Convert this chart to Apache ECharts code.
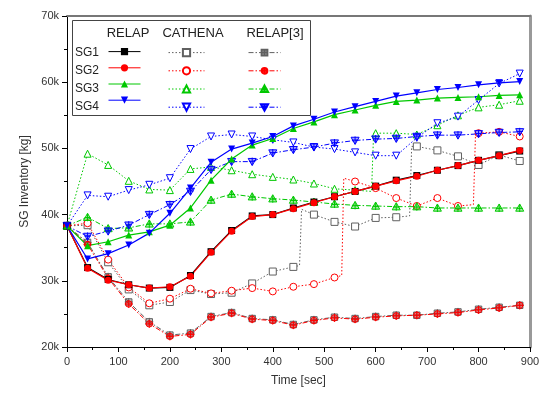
<!DOCTYPE html>
<html>
<head>
<meta charset="utf-8">
<script src="https://cdn.jsdelivr.net/npm/echarts@6/dist/echarts.min.js"></script>
<style>
html, body { margin: 0; padding: 0; background: #fff; }
#chart { width: 544px; height: 396px; }
</style>
</head>
<body>
<div id="chart"></div>
<script>
// time points [sec] used by RELAP and RELAP[3]
const times = [0, 40, 80, 120, 160, 200, 240, 280, 320, 360, 400, 440, 480, 520, 560, 600, 640, 680, 720, 760, 800, 840, 880];

// RELAP, SG inventory [k kg]
const relapSG1 = [38.3, 32.0, 30.2, 29.4, 28.9, 29.0, 30.8, 34.4, 37.6, 39.8, 40.0, 41.0, 41.9, 42.7, 43.5, 44.3, 45.2, 45.9, 46.7, 47.4, 48.2, 48.9, 49.6];
const relapSG2 = [38.3, 31.9, 30.1, 29.4, 28.9, 29.1, 30.7, 34.3, 37.5, 39.7, 40.0, 40.9, 41.8, 42.7, 43.5, 44.3, 45.1, 45.8, 46.7, 47.4, 48.2, 48.9, 49.7];
const relapSG3 = [38.3, 35.3, 35.9, 36.9, 37.4, 38.4, 41.0, 45.2, 48.4, 50.5, 51.5, 53.0, 54.0, 55.1, 55.8, 56.5, 57.1, 57.3, 57.6, 57.7, 57.8, 58.0, 58.1];
const relapSG4 = [38.3, 33.3, 34.1, 35.4, 37.2, 40.2, 44.0, 47.9, 49.9, 50.8, 51.8, 53.4, 54.4, 55.5, 56.3, 57.1, 57.9, 58.4, 58.9, 59.2, 59.6, 59.9, 60.1];

// CATHENA, own time points because of the sudden jumps
const cathenaSG1Time = [0, 40, 80, 120, 160, 200, 240, 280, 320, 360, 400, 440, 452, 456, 480, 520, 560, 600, 640, 666, 670, 680, 720, 760, 800, 840, 880];
const cathenaSG1 = [38.3, 38.4, 32.8, 28.7, 26.3, 26.8, 28.6, 28.0, 28.2, 29.6, 31.4, 32.1, 32.3, 40.8, 40.0, 38.9, 38.2, 39.5, 39.6, 39.8, 50.3, 50.3, 49.7, 48.8, 47.5, 49.0, 48.1];
const cathenaSG2Time = [0, 40, 80, 120, 160, 200, 240, 280, 320, 360, 400, 440, 480, 520, 534, 538, 560, 600, 640, 680, 720, 760, 790, 794, 800, 840, 880];
const cathenaSG2 = [38.3, 38.7, 33.2, 29.0, 26.6, 27.3, 28.8, 28.1, 28.5, 28.9, 28.4, 29.1, 29.5, 30.5, 30.8, 45.5, 45.0, 44.0, 42.5, 41.3, 42.5, 41.3, 41.5, 52.0, 52.3, 52.5, 51.8];
const cathenaSG3Time = [0, 40, 80, 120, 160, 200, 240, 280, 320, 360, 400, 440, 480, 520, 560, 592, 596, 600, 640, 680, 720, 760, 800, 840, 880];
const cathenaSG3 = [38.3, 49.2, 47.5, 45.1, 43.8, 43.7, 46.9, 47.2, 46.7, 46.1, 45.7, 45.3, 44.7, 43.9, 43.7, 43.5, 52.3, 52.3, 52.3, 52.1, 53.5, 55.0, 56.2, 56.6, 57.2];
const cathenaSG4 = [38.3, 42.9, 42.7, 43.7, 44.5, 45.5, 49.9, 51.8, 52.1, 51.8, 51.3, 50.9, 50.2, 49.9, 49.4, 48.9, 48.9, 51.6, 53.8, 54.8, 57.3, 59.8, 61.3];

// RELAP[3]
const relap3SG1 = [38.3, 35.8, 30.6, 26.8, 23.8, 21.8, 22.1, 24.6, 25.2, 24.3, 24.1, 23.4, 24.1, 24.5, 24.3, 24.6, 24.8, 24.8, 25.1, 25.3, 25.7, 26.0, 26.3];
const relap3SG2 = [38.3, 35.5, 30.4, 26.5, 23.5, 21.6, 21.9, 24.5, 25.1, 24.2, 24.0, 23.3, 24.0, 24.4, 24.2, 24.5, 24.7, 24.8, 25.0, 25.2, 25.6, 25.9, 26.3];
const relap3SG3 = [38.3, 39.6, 37.9, 38.0, 38.6, 38.6, 38.9, 42.2, 43.1, 42.7, 42.4, 42.2, 41.9, 41.6, 41.4, 41.3, 41.2, 41.2, 41.0, 41.0, 41.0, 41.0, 41.0];
const relap3SG4 = [38.3, 36.7, 37.5, 38.4, 40.0, 41.5, 43.5, 46.8, 48.0, 48.0, 49.3, 49.8, 50.2, 50.8, 51.2, 51.4, 51.5, 51.8, 52.0, 52.0, 52.2, 52.4, 52.5];

const xTicks = [0, 100, 200, 300, 400, 500, 600, 700, 800, 900];

const FONT = '"Liberation Sans", Arial, sans-serif';
const colors = ['#000000', '#ff0000', '#00c800', '#0000ff'];
const greys = ['#606060', '#ff0000', '#00c800', '#0000ff'];
const sgNames = ['SG1', 'SG2', 'SG3', 'SG4'];

const shapes = ['rect', 'circle', 'triangle', 'path://M0,0L10,0L5,9Z'];
const crossShapes = [
  'path://M1,1H9V9H1Z M5,0V10 M0,5H10',
  'path://M5,1A4,4,0,1,1,4.99,1Z M5,0V10 M0,5H10',
  'path://M5,0L10,9H0Z M5,1V10 M1,5.5H9',
  'path://M0,1H10L5,10Z M5,0V9 M1,4.5H9'
];

// markers only on the 40 s grid, extra jump points get none
function pts(t, v) {
  return t.map((x, i) => (x % 40 === 0 ? [x, v[i]] : { value: [x, v[i]], symbol: 'none' }));
}

const relap = [relapSG1, relapSG2, relapSG3, relapSG4];
const cathena = [
  [cathenaSG1Time, cathenaSG1],
  [cathenaSG2Time, cathenaSG2],
  [cathenaSG3Time, cathenaSG3],
  [times, cathenaSG4]
];
const relap3 = [relap3SG1, relap3SG2, relap3SG3, relap3SG4];

const series = [];
cathena.forEach((d, i) => {
  series.push({
    name: 'CATHENA ' + sgNames[i],
    type: 'line',
    data: pts(d[0], d[1]),
    symbol: shapes[i],
    symbolSize: 7,
    lineStyle: { color: greys[i], width: 1, type: [1.5, 2] },
    itemStyle: { color: '#fff', borderColor: greys[i], borderWidth: 1 }
  });
});
relap3.forEach((d, i) => {
  series.push({
    name: 'RELAP[3] ' + sgNames[i],
    type: 'line',
    data: pts(times, d),
    symbol: crossShapes[i],
    symbolSize: 8,
    lineStyle: { color: greys[i], width: 1, type: [5, 2, 1.5, 2] },
    itemStyle: { color: echarts.color.modifyAlpha(greys[i], 0.35), borderColor: greys[i], borderWidth: 1 }
  });
});
relap.forEach((d, i) => {
  series.push({
    name: 'RELAP ' + sgNames[i],
    type: 'line',
    data: pts(times, d),
    symbol: shapes[i],
    symbolSize: 7,
    lineStyle: { color: colors[i], width: 1.2 },
    itemStyle: { color: colors[i] }
  });
});

function legendCol(prefix, left, width) {
  return {
    orient: 'vertical',
    left: left,
    top: 48,
    padding: 0,
    itemWidth: width,
    itemHeight: 9,
    itemGap: 9,
    selectedMode: false,
    formatter: () => '',
    lineStyle: { width: 1 },
    textStyle: { fontSize: 6, lineHeight: 6 },
    data: sgNames.map(s => prefix + ' ' + s)
  };
}

const chart = echarts.init(document.getElementById('chart'));
chart.setOption({
  animation: false,
  backgroundColor: '#fff',
  textStyle: { fontFamily: FONT },
  grid: { left: 67, right: 14, top: 16, bottom: 49 },
  legend: [
    legendCol('RELAP', 108, 32),
    legendCol('CATHENA', 168, 36),
    legendCol('RELAP[3]', 248, 32)
  ],
  graphic: [
    { type: 'rect', shape: { x: 72.5, y: 20.5, width: 238, height: 95 }, style: { fill: '#fff', stroke: '#444', lineWidth: 1 } },
    { type: 'text', x: 128, y: 33, style: { text: 'RELAP', align: 'center', verticalAlign: 'middle', font: '13px ' + FONT, fill: '#222' } },
    { type: 'text', x: 193, y: 33, style: { text: 'CATHENA', align: 'center', verticalAlign: 'middle', font: '13px ' + FONT, fill: '#222' } },
    { type: 'text', x: 275, y: 33, style: { text: 'RELAP[3]', align: 'center', verticalAlign: 'middle', font: '13px ' + FONT, fill: '#222' } }
  ].concat(sgNames.map((s, i) => ({
    type: 'text', x: 75, y: 52.5 + i * 18,
    style: { text: s, align: 'left', verticalAlign: 'middle', font: '12px ' + FONT, fill: '#222' }
  }))),
  xAxis: [{
    type: 'value',
    min: 0,
    max: 900,
    interval: 100,
    name: 'Time [sec]',
    nameLocation: 'middle',
    nameGap: 28,
    nameTextStyle: { fontSize: 12, color: '#333' },
    axisLine: { onZero: false, lineStyle: { color: '#000', width: 1 } },
    axisTick: { length: 5, lineStyle: { color: '#000' } },
    minorTick: { show: true, splitNumber: 2, length: 3, lineStyle: { color: '#000' } },
    axisLabel: { fontSize: 11, color: '#333', margin: 9, formatter: v => (xTicks.includes(v) ? String(v) : '') },
    splitLine: { show: false }
  }, {
    type: 'value',
    position: 'top',
    min: 0,
    max: 900,
    axisLine: { show: true, onZero: false, lineStyle: { color: '#777', width: 2 } },
    axisTick: { show: false },
    axisLabel: { show: false },
    splitLine: { show: false }
  }],
  yAxis: [{
    type: 'value',
    min: 20,
    max: 70,
    interval: 10,
    name: 'SG Inventory [kg]',
    nameLocation: 'middle',
    nameGap: 32,
    nameTextStyle: { fontSize: 12, color: '#333' },
    axisLine: { show: true, onZero: false, lineStyle: { color: '#000', width: 1 } },
    axisTick: { show: true, length: 5, lineStyle: { color: '#000' } },
    minorTick: { show: true, splitNumber: 2, length: 3, lineStyle: { color: '#000' } },
    axisLabel: { fontSize: 11, color: '#333', margin: 8, formatter: v => v + 'k' },
    splitLine: { show: false }
  }, {
    type: 'value',
    position: 'right',
    min: 20,
    max: 70,
    axisLine: { show: true, onZero: false, lineStyle: { color: '#999', width: 3 } },
    axisTick: { show: false },
    axisLabel: { show: false },
    splitLine: { show: false }
  }],
  series: series
});
</script>
</body>
</html>
